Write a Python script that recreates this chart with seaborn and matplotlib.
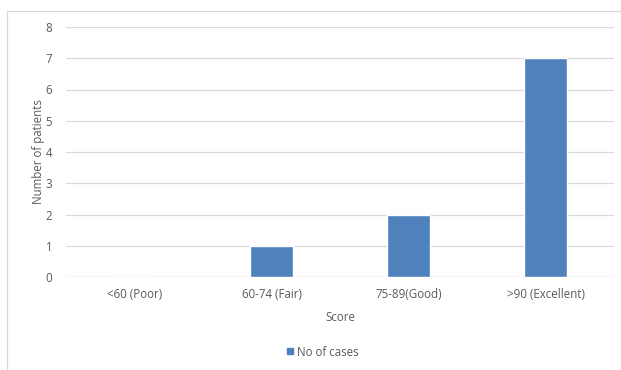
import matplotlib
matplotlib.use("Agg")
import matplotlib.pyplot as plt
from matplotlib.patches import Rectangle
from matplotlib.lines import Line2D
import seaborn as sns
import pandas as pd

categories = ["<60 (Poor)", "60-74 (Fair)", "75-89(Good)", ">90 (Excellent)"]
cases = [0, 1, 2, 7]
series_name = "No of cases"
y_ticks = [0, 1, 2, 3, 4, 5, 6, 7, 8]

BAR = "#4F81BD"
GRID = "#D9D9D9"
TEXT = "#595959"
FS = 8.3

sns.set_theme(style="white")
plt.rcParams["font.family"] = ["Open Sans", "DejaVu Sans"]

W, H = 621, 370
fig = plt.figure(figsize=(W / 100, H / 100), dpi=100)
ax = fig.add_axes([66 / W, 1 - 277 / H, (614 - 66) / W, (277 - 27) / H])

df = pd.DataFrame({"Score": categories, "Patients": cases, "Series": series_name})
sns.barplot(data=df, x="Score", y="Patients", color=BAR, width=0.31,
            saturation=1, ax=ax, zorder=3)

ax.set_ylim(0, 8)
ax.set_xlim(-0.5, 3.5)
ax.set_yticks(y_ticks)
ax.yaxis.grid(True, color=GRID, linewidth=0.9, zorder=0)
ax.set_axisbelow(True)
for s in ax.spines.values():
    s.set_visible(False)
ax.axhline(0, color=GRID, linewidth=0.9, zorder=1)
ax.tick_params(axis="both", length=0, labelsize=FS, labelcolor=TEXT)
ax.tick_params(axis="x", pad=8)
ax.tick_params(axis="y", pad=10)
ax.set_xlabel("Score", fontsize=FS, color=TEXT, labelpad=7)
ax.set_ylabel("Number of patients", fontsize=FS, color=TEXT, labelpad=0)

# outer chart frame
fig.patches.append(Rectangle((7 / W, -0.05), 1.2, 1 - 11 / H + 0.05,
                             transform=fig.transFigure, fill=False,
                             edgecolor=GRID, linewidth=0.9))

handle = Line2D([], [], marker="s", linestyle="none", markersize=5,
                markerfacecolor=BAR, markeredgecolor=BAR)
fig.legend([handle], [series_name], loc="center",
           bbox_to_anchor=(322 / W, 1 - 352 / H), frameon=False,
           fontsize=FS, labelcolor=TEXT, handletextpad=0.2,
           handlelength=0.8)

fig.savefig("out.png", dpi=100, facecolor="white")
